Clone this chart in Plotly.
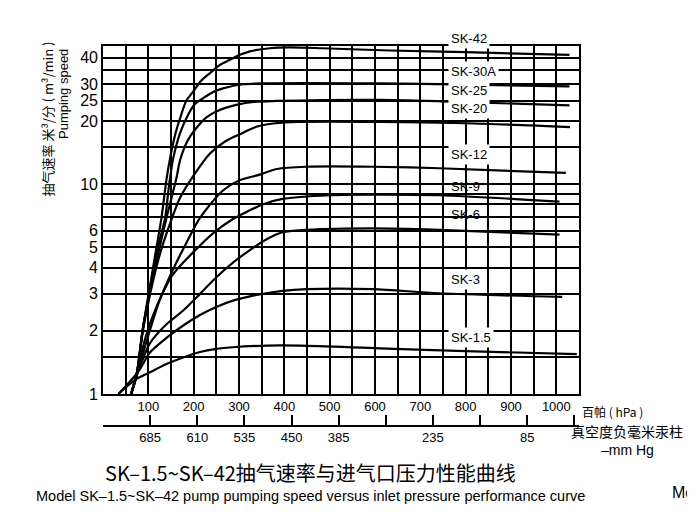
import math
import plotly.graph_objects as go

# ---- data ----
hpa_tickvals = [0, 50, 100, 150, 200, 250, 300, 350, 400, 450, 500, 550, 600, 650, 700, 750, 800, 850, 900, 950, 1000, 1050]
hpa_ticktext = ["", "", "100", "", "200", "", "300", "", "400", "", "500", "", "600", "", "700", "", "800", "", "900", "", "1000", ""]
mmhg_tickvals = [0, 100, 200, 300, 400, 500, 600, 700, 800, 900, 1000]
mmhg_ticktext = ["", "685", "610", "535", "450", "385", "", "235", "", "85", ""]
speed_tickvals = [1, 1.5, 2, 3, 4, 5, 6, 7, 8, 9, 10, 15, 20, 25, 30, 35, 40]
speed_ticktext = ["1", "", "2", "3", "4", "5", "6", "", "", "", "10", "", "20", "25", "30", "", "40"]

sk42_x = [62, 74, 88, 104, 118, 129, 140, 148, 160, 170, 184, 199, 216, 236, 258, 280, 302, 324, 368, 412, 485, 632, 800, 1029]
sk42_y = [1, 1.23, 2.05, 3.3, 5.0, 6.9, 10.5, 13.3, 17.5, 20.6, 25, 27.6, 31, 33.8, 37, 39.1, 41.3, 42.9, 44.4, 44.8, 44.4, 43.3, 42.5, 41.3]
sk30a_x = [62, 74, 88, 104, 120, 137, 146, 155, 170, 184, 202, 221, 243, 265, 309, 353, 610, 800, 1029]
sk30a_y = [1, 1.23, 2.05, 3.2, 4.9, 6.9, 10, 13.3, 17.5, 20.6, 24, 25.7, 27.5, 28.6, 29.9, 30.2, 30.2, 29.8, 29.2]
sk25_x = [62, 74, 88, 104, 122, 140, 162, 170, 186, 206, 228, 250, 294, 339, 383, 610, 800, 1029]
sk25_y = [1, 1.23, 2.05, 3.1, 4.7, 6.9, 10.7, 13.0, 16, 18.5, 20.8, 22.2, 23.85, 24.7, 24.9, 25.2, 24.6, 23.7]
sk20_x = [62, 74, 88, 104, 125, 148, 170, 200, 236, 270, 302, 340, 380, 430, 610, 800, 1030]
sk20_y = [1, 1.23, 2.0, 3.0, 4.6, 6.5, 8.6, 11, 14, 16, 17.3, 18.8, 19.5, 19.8, 19.8, 19.5, 18.7]
sk12_x = [62, 80, 100, 125, 154, 185, 214, 264, 300, 346, 383, 449, 595, 742, 1021]
sk12_y = [1, 1.35, 1.9, 2.8, 3.9, 5.3, 6.9, 9.3, 10.4, 11.1, 11.8, 12.1, 12.1, 11.9, 11.3]
sk9_x = [62, 76, 95, 118, 154, 214, 250, 286, 302, 352, 396, 500, 595, 742, 1007]
sk9_y = [1, 1.3, 1.9, 2.6, 3.7, 5.1, 6.0, 6.8, 7.1, 8.0, 8.5, 8.85, 8.9, 8.85, 8.25]
sk6_x = [62, 76, 104, 140, 177, 214, 250, 288, 324, 360, 396, 449, 595, 742, 1007]
sk6_y = [1, 1.25, 1.75, 2.15, 2.5, 3.0, 3.6, 4.25, 4.85, 5.45, 5.9, 6.05, 6.15, 6.05, 5.75]
sk3_x = [34, 60, 80, 104, 140, 177, 214, 250, 290, 324, 396, 449, 595, 742, 1013]
sk3_y = [1, 1.15, 1.3, 1.58, 1.85, 2.12, 2.38, 2.6, 2.8, 2.92, 3.1, 3.16, 3.16, 3.02, 2.9]
sk15_x = [34, 74, 104, 140, 180, 214, 250, 286, 361, 434, 610, 800, 1045]
sk15_y = [1, 1.18, 1.27, 1.39, 1.5, 1.585, 1.64, 1.67, 1.70, 1.70, 1.65, 1.6, 1.55]

series_names = ["SK-42", "SK-30A", "SK-25", "SK-20", "SK-12", "SK-9", "SK-6", "SK-3", "SK-1.5"]
series_x = [sk42_x, sk30a_x, sk25_x, sk20_x, sk12_x, sk9_x, sk6_x, sk3_x, sk15_x]
series_y = [sk42_y, sk30a_y, sk25_y, sk20_y, sk12_y, sk9_y, sk6_y, sk3_y, sk15_y]
label_y = [49.5, 34.4, 27.8, 22.8, 13.8, 9.75, 7.14, 3.5, 1.85]
label_bg = [True, True, True, True, True, False, False, True, True]
label_x = 762
Y_MAX = 45.5

# ---- figure ----
# the page body has an 8px margin, so the figure is 8px smaller and margins shifted
OFF = 8
W, H = 695 - OFF, 518 - OFF
L, R, T, B = 103 - OFF, 116, 46 - OFF, 92
plot_w = W - L - R
plot_h = H - T - B


def px(xp):
    # reference-pixel x -> paper fraction
    return (xp - OFF - L) / plot_w


def py(yp):
    # reference-pixel y -> paper fraction
    return (H - B - (yp - OFF)) / plot_h


FONT = "Arial, Liberation Sans, Helvetica, sans-serif"
CJK = "Noto Sans CJK SC, sans-serif"

fig = go.Figure()
for name, xs, ys in zip(series_names, series_x, series_y):
    fig.add_trace(go.Scatter(x=xs, y=ys, mode="lines", name=name,
                             line=dict(color="black", width=2.2, shape="spline", smoothing=0.8),
                             showlegend=False, hoverinfo="skip"))
# invisible trace so the second (mm Hg) axis is drawn
fig.add_trace(go.Scatter(x=[0], y=[1], xaxis="x2", yaxis="y", mode="markers",
                         marker=dict(opacity=0), showlegend=False, hoverinfo="skip"))

y_bottom_frac = py(394)
GW = 1.7

fig.update_layout(
    width=W, height=H, autosize=False,
    margin=dict(l=L, r=R, t=T, b=B),
    paper_bgcolor="white", plot_bgcolor="white",
    font=dict(family=FONT, color="black"),
    xaxis=dict(range=[0, 1050], tickmode="array", tickvals=hpa_tickvals, ticktext=hpa_ticktext,
               showgrid=True, gridcolor="black", gridwidth=GW, zeroline=False,
               showline=True, linecolor="black", linewidth=GW, mirror=True,
               ticks="", tickfont=dict(size=13, family=FONT), anchor="y"),
    xaxis2=dict(overlaying="x", anchor="free", position=0, side="bottom",
                domain=[0, 1010 / 1050], range=[0, 1010],
                tickmode="array", tickvals=mmhg_tickvals, ticktext=mmhg_ticktext,
                ticks="inside", ticklen=10, tickwidth=GW, tickcolor="black",
                showline=True, linecolor="black", linewidth=GW,
                showgrid=False, zeroline=False, tickfont=dict(size=13, family=FONT)),
    yaxis=dict(type="log", range=[0, math.log10(Y_MAX)], domain=[y_bottom_frac, 1],
               tickmode="array", tickvals=speed_tickvals, ticktext=speed_ticktext,
               showgrid=True, gridcolor="black", gridwidth=GW, zeroline=False,
               showline=True, linecolor="black", linewidth=GW, mirror=True,
               ticks="", tickfont=dict(size=16, family=FONT)),
)


def yval_to_paper(v):
    return y_bottom_frac + (1 - y_bottom_frac) * math.log10(v) / math.log10(Y_MAX)


ann = []
for name, ly, bg in zip(series_names, label_y, label_bg):
    a = dict(x=label_x, xref="x", text=name,
             showarrow=False, xanchor="left", yanchor="middle",
             font=dict(size=13, family=FONT, color="black"),
             bgcolor="white" if bg else None, borderpad=2)
    if ly > Y_MAX:
        a.update(y=yval_to_paper(ly), yref="paper")
    else:
        a.update(y=math.log10(ly), yref="y")
    ann.append(a)


def txt(xp, yp, text, size, family, angle=0, xanchor="center", yanchor="middle"):
    return dict(x=px(xp), y=py(yp), xref="paper", yref="paper", text=text,
                textangle=angle, showarrow=False, xanchor=xanchor, yanchor=yanchor,
                font=dict(size=size, family=family, color="black"))


ann += [
    txt(47, 40, "抽气速率 米³/分 ( m³/min )", 13, CJK, angle=-90, yanchor="top"),
    txt(63, 47, "Pumping speed", 13, FONT, angle=-90, yanchor="top"),
    txt(612, 411, "百帕 ( hPa )", 12, CJK),
    txt(627, 431, "真空度负毫米汞柱", 14, CJK),
    txt(627, 450, "–mm Hg", 14, FONT),
    txt(310, 472, "SK–1.5~SK–42抽气速率与进气口压力性能曲线", 20, CJK),
    txt(310, 496, "Model SK–1.5~SK–42 pump pumping speed versus inlet pressure performance curve",
        14.5, FONT),
    txt(670, 492, "Model", 16, FONT, xanchor="left"),
]
fig.update_layout(annotations=ann)

fig.write_html("out.html")
